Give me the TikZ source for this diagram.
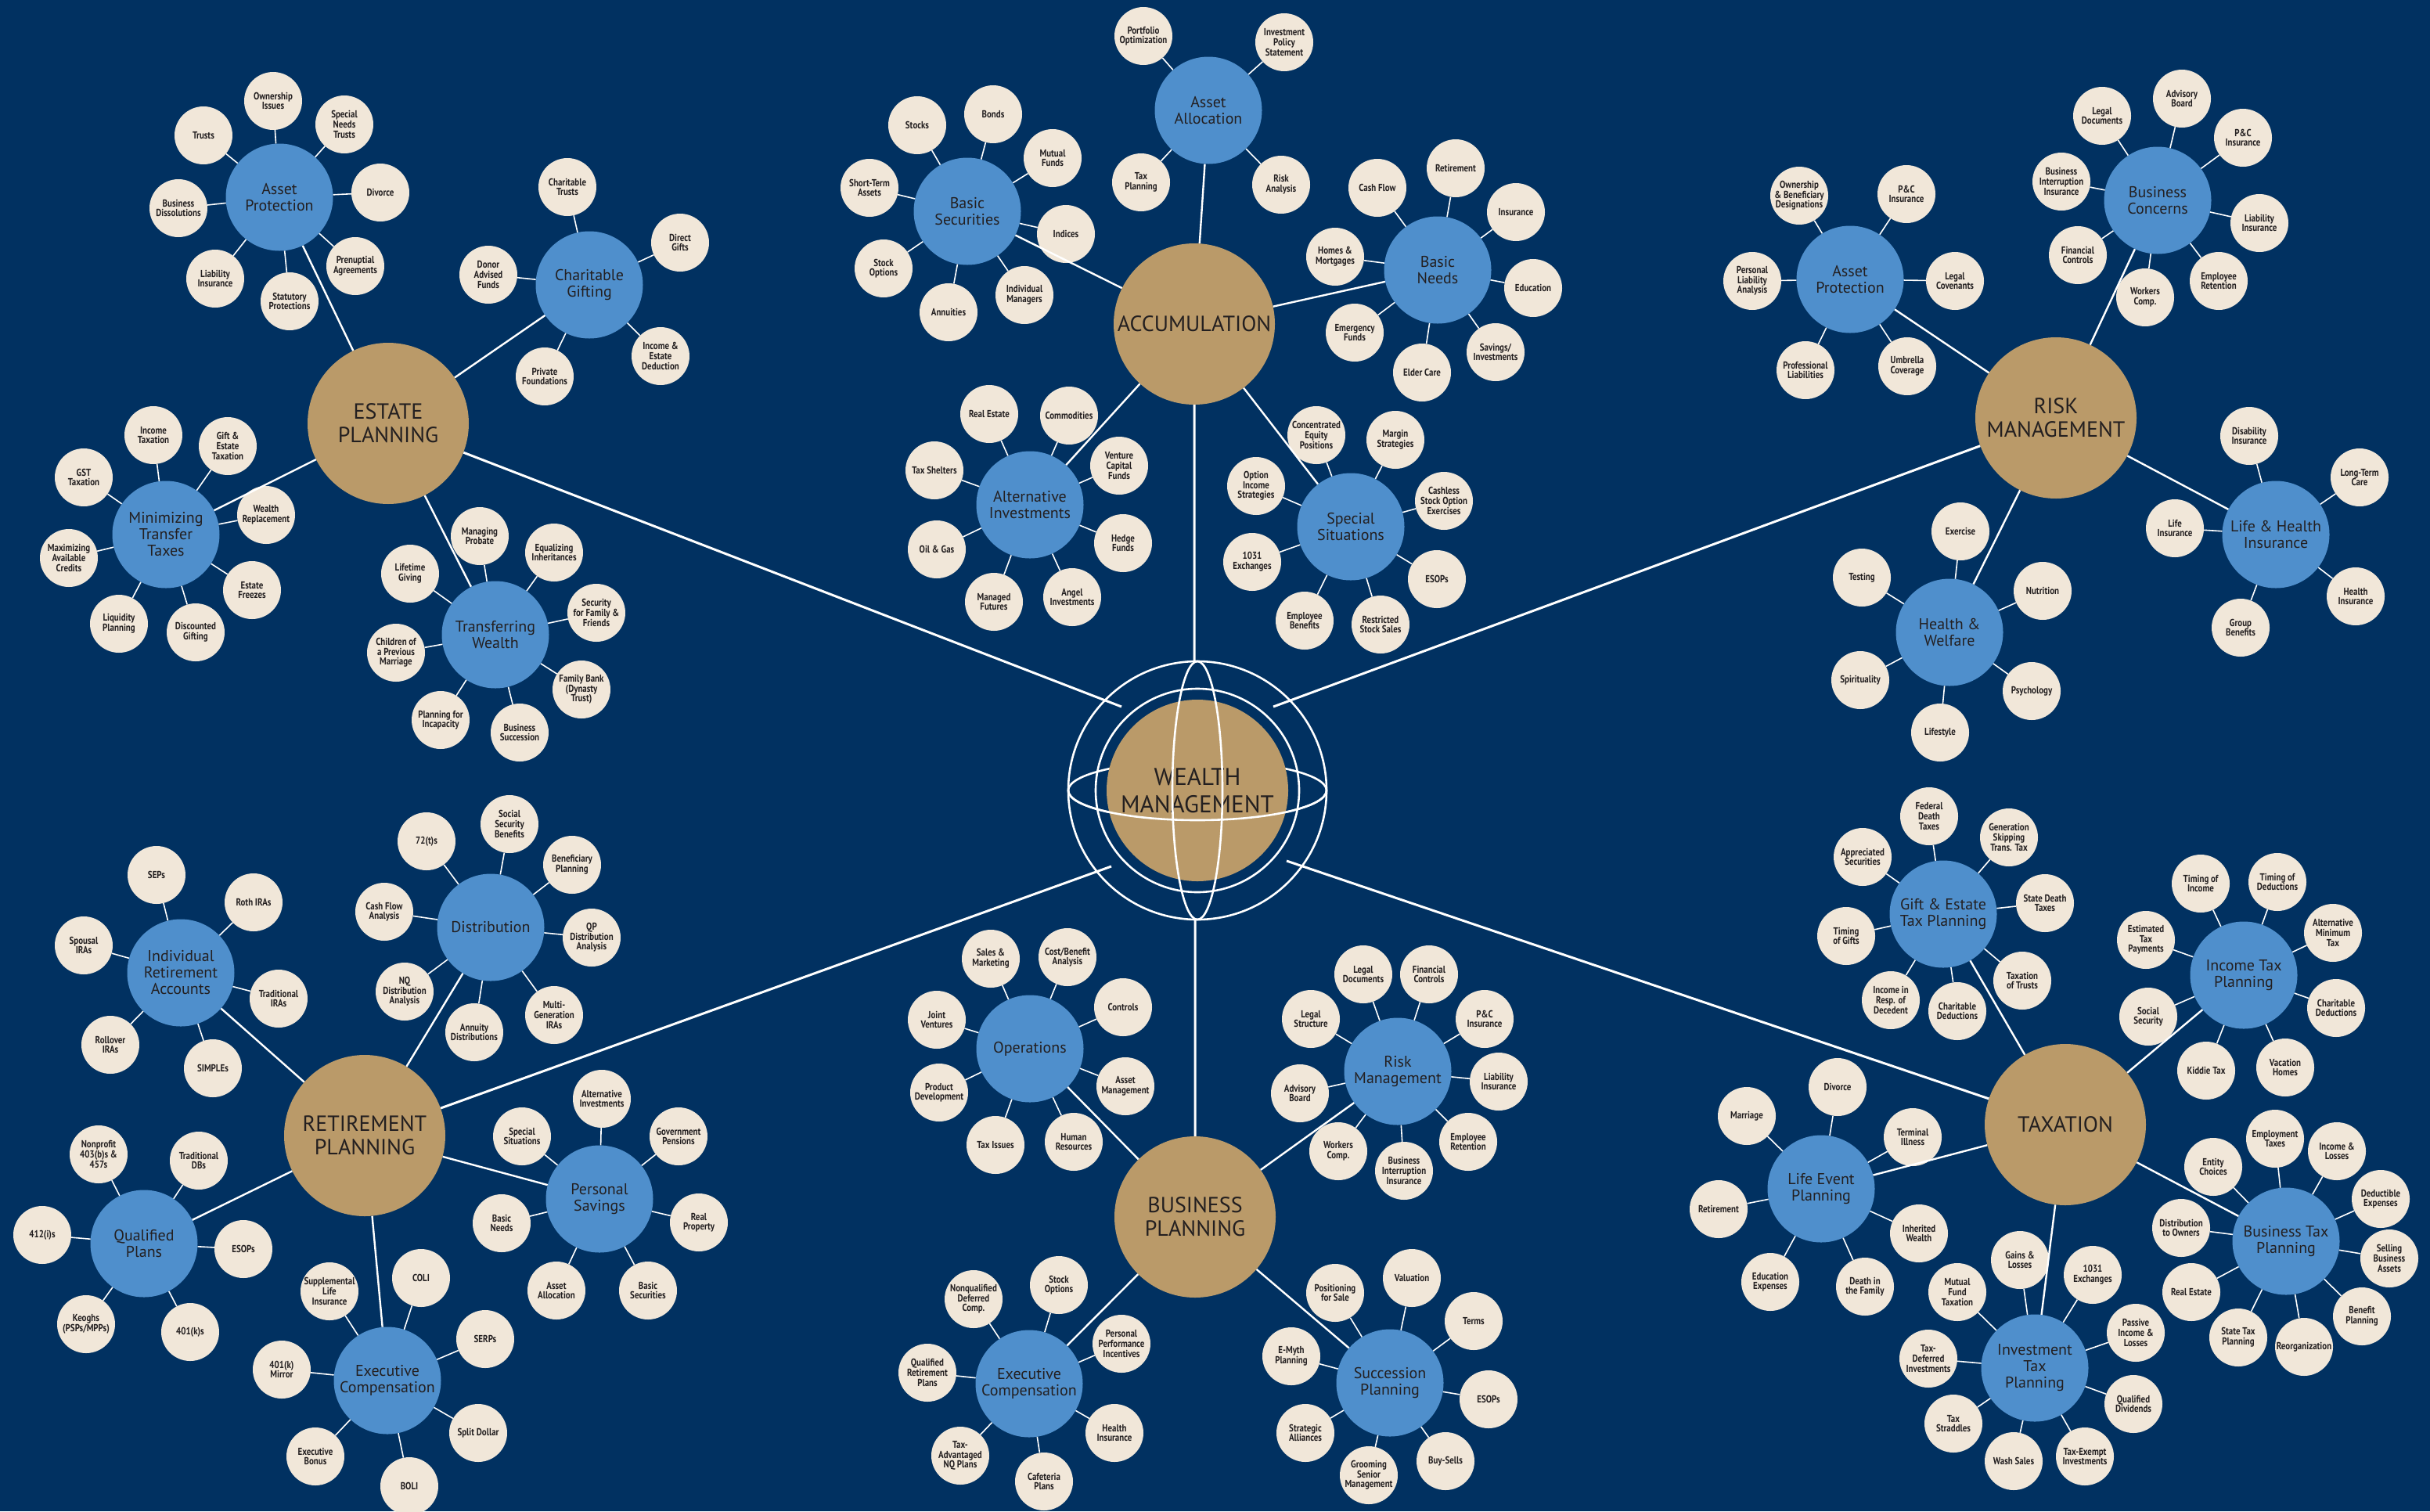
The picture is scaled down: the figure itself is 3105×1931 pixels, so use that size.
\documentclass[tikz,border=0pt]{standalone}
\usepackage{fontspec}
\setmainfont{PT Sans}
\newfontfamily\leaffont{PT Sans}[FakeStretch=0.84]

\definecolor{wmNavy}{HTML}{013161}
\definecolor{wmGold}{HTML}{BA9A69}
\definecolor{wmBlue}{HTML}{4F8FCC}
\definecolor{wmCream}{HTML}{F1E7D9}
\definecolor{wmInk}{HTML}{231F20}

\begin{document}
\begin{tikzpicture}[
		x=1pt, y=-1pt,
		hub/.style={circle, fill=wmGold, text=wmInk, align=center, inner sep=0pt, minimum size=206pt, font=\fontsize{28}{30}\selectfont},
		topic/.style={circle, fill=wmBlue, text=wmInk, align=center, inner sep=0pt, minimum size=137pt, font=\fontsize{20}{21}\selectfont},
		leaf/.style={circle, fill=wmCream, text=wmInk, align=center, inner sep=0pt, minimum size=74pt, font=\leaffont\bfseries\fontsize{13}{12.6}\selectfont},
		spoke/.style={draw=white, line width=3pt},
		branch/.style={draw=white, line width=2.4pt},
		twig/.style={draw=white, line width=1.6pt},
		globe/.style={draw=white, line width=2.6pt}
		]
		\useasboundingbox (0,0) rectangle (3105,1931);
		\fill[wmNavy] (0,0) rectangle (3105,1931);
		
		% globe in the middle
		\coordinate (gc) at (1530,1010);
		\draw[globe] (gc) circle[radius=165pt];
		\draw[globe] (gc) circle[radius=130pt];
		\draw[globe] (gc) ellipse[x radius=165pt, y radius=38pt];
		\node[hub, minimum size=232pt, font=\fontsize{31}{35}\selectfont] (wealth) at (gc) {WEALTH\\MANAGEMENT};
		\draw[globe] (gc) ++(-165pt,0) arc[start angle=180, end angle=360, x radius=165pt, y radius=38pt];
		\draw[globe] (gc) ellipse[x radius=32pt, y radius=165pt];
		\coordinate (gE) at (1433,903);
		\coordinate (gA) at (1526,845);
		\coordinate (gR) at (1627,903);
		\coordinate (gRet) at (1420,1107);
		\coordinate (gB) at (1527,1175);
		\coordinate (gT) at (1644,1100);
		
		\node[hub] (estate) at (496,541) {ESTATE\\PLANNING};
		\node[hub] (accum) at (1526,414) {ACCUMULATION};
		\node[hub] (riskm) at (2627,534) {RISK\\MANAGEMENT};
		\node[hub] (retire) at (466,1451) {RETIREMENT\\PLANNING};
		\node[hub] (business) at (1527,1555) {BUSINESS\\PLANNING};
		\node[hub] (taxation) at (2639,1437) {TAXATION};
		
		\draw[spoke] (gE) -- (estate) (gA) -- (accum) (gR) -- (riskm) (gRet) -- (retire) (gB) -- (business) (gT) -- (taxation);
		
		% estate planning
		\node[topic] (assetprot) at (357,252) {Asset\\Protection};
		\node[leaf] (ap1) at (349,129) {Ownership\\Issues};
		\node[leaf] (ap2) at (260,173) {Trusts};
		\node[leaf] (ap3) at (440,159) {Special\\Needs\\Trusts};
		\node[leaf] (ap4) at (228,266) {Business\\Dissolutions};
		\node[leaf] (ap5) at (486,246) {Divorce};
		\node[leaf] (ap6) at (275,356) {Liability\\Insurance};
		\node[leaf] (ap7) at (370,385) {Statutory\\Protections};
		\node[leaf] (ap8) at (454,340) {Prenuptial\\Agreements};
		\draw[twig] (assetprot) -- (ap1) (assetprot) -- (ap2) (assetprot) -- (ap3) (assetprot) -- (ap4) (assetprot) -- (ap5) (assetprot) -- (ap6) (assetprot) -- (ap7) (assetprot) -- (ap8);
		
		\node[topic] (chargift) at (753,364) {Charitable\\Gifting};
		\node[leaf] (cg1) at (725,239) {Charitable\\Trusts};
		\node[leaf] (cg2) at (624,351) {Donor\\Advised\\Funds};
		\node[leaf] (cg3) at (869,310) {Direct\\Gifts};
		\node[leaf] (cg4) at (696,481) {Private\\Foundations};
		\node[leaf] (cg5) at (844,455) {Income \&\\Estate\\Deduction};
		\draw[twig] (chargift) -- (cg1) (chargift) -- (cg2) (chargift) -- (cg3) (chargift) -- (cg4) (chargift) -- (cg5);
		
		\node[topic] (mintax) at (212,683) {Minimizing\\Transfer\\Taxes};
		\node[leaf] (mt1) at (196,556) {Income\\Taxation};
		\node[leaf] (mt2) at (291,570) {Gift \&\\Estate\\Taxation};
		\node[leaf] (mt3) at (107,610) {GST\\Taxation};
		\node[leaf] (mt4) at (340,658) {Wealth\\Replacement};
		\node[leaf] (mt5) at (88,713) {Maximizing\\Available\\Credits};
		\node[leaf] (mt6) at (322,754) {Estate\\Freezes};
		\node[leaf] (mt7) at (152,797) {Liquidity\\Planning};
		\node[leaf] (mt8) at (250,808) {Discounted\\Gifting};
		\draw[twig] (mintax) -- (mt1) (mintax) -- (mt2) (mintax) -- (mt3) (mintax) -- (mt4) (mintax) -- (mt5) (mintax) -- (mt6) (mintax) -- (mt7) (mintax) -- (mt8);
		
		\node[topic] (transfer) at (633,811) {Transferring\\Wealth};
		\node[leaf] (tw1) at (613,685) {Managing\\Probate};
		\node[leaf] (tw2) at (524,733) {Lifetime\\Giving};
		\node[leaf] (tw3) at (708,706) {Equalizing\\Inheritances};
		\node[leaf] (tw4) at (762,783) {Security\\for Family \&\\Friends};
		\node[leaf] (tw5) at (506,834) {Children of\\a Previous\\Marriage};
		\node[leaf] (tw6) at (743,881) {Family Bank\\(Dynasty\\Trust)};
		\node[leaf] (tw7) at (563,920) {Planning for\\Incapacity};
		\node[leaf] (tw8) at (664,936) {Business\\Succession};
		\draw[twig] (transfer) -- (tw1) (transfer) -- (tw2) (transfer) -- (tw3) (transfer) -- (tw4) (transfer) -- (tw5) (transfer) -- (tw6) (transfer) -- (tw7) (transfer) -- (tw8);
		
		\draw[branch] (estate) -- (assetprot) (estate) -- (chargift) (estate) -- (mintax) (estate) -- (transfer);
		
		% accumulation
		\node[topic] (assetalloc) at (1544,141) {Asset\\Allocation};
		\node[leaf] (aa1) at (1461,46) {Portfolio\\Optimization};
		\node[leaf] (aa2) at (1641,54) {Investment\\Policy\\Statement};
		\node[leaf] (aa3) at (1458,233) {Tax\\Planning};
		\node[leaf] (aa4) at (1637,236) {Risk\\Analysis};
		\draw[twig] (assetalloc) -- (aa1) (assetalloc) -- (aa2) (assetalloc) -- (aa3) (assetalloc) -- (aa4);
		
		\node[topic] (basicsec) at (1236,270) {Basic\\Securities};
		\node[leaf] (bs1) at (1172,160) {Stocks};
		\node[leaf] (bs2) at (1269,146) {Bonds};
		\node[leaf] (bs3) at (1345,202) {Mutual\\Funds};
		\node[leaf] (bs4) at (1111,240) {Short-Term\\Assets};
		\node[leaf] (bs5) at (1362,299) {Indices};
		\node[leaf] (bs6) at (1129,343) {Stock\\Options};
		\node[leaf] (bs7) at (1212,399) {Annuities};
		\node[leaf] (bs8) at (1309,377) {Individual\\Managers};
		\draw[twig] (basicsec) -- (bs1) (basicsec) -- (bs2) (basicsec) -- (bs3) (basicsec) -- (bs4) (basicsec) -- (bs5) (basicsec) -- (bs6) (basicsec) -- (bs7) (basicsec) -- (bs8);
		
		\node[topic] (basicneeds) at (1837,345) {Basic\\Needs};
		\node[leaf] (bn1) at (1760,240) {Cash Flow};
		\node[leaf] (bn2) at (1860,215) {Retirement};
		\node[leaf] (bn3) at (1937,271) {Insurance};
		\node[leaf] (bn4) at (1706,328) {Homes \&\\Mortgages};
		\node[leaf] (bn5) at (1959,368) {Education};
		\node[leaf] (bn6) at (1731,425) {Emergency\\Funds};
		\node[leaf] (bn7) at (1817,476) {Elder Care};
		\node[leaf] (bn8) at (1911,450) {Savings/\\Investments};
		\draw[twig] (basicneeds) -- (bn1) (basicneeds) -- (bn2) (basicneeds) -- (bn3) (basicneeds) -- (bn4) (basicneeds) -- (bn5) (basicneeds) -- (bn6) (basicneeds) -- (bn7) (basicneeds) -- (bn8);
		
		\node[topic] (altinv) at (1316,645) {Alternative\\Investments};
		\node[leaf] (ai1) at (1264,529) {Real Estate};
		\node[leaf] (ai2) at (1366,531) {Commodities};
		\node[leaf] (ai3) at (1194,601) {Tax Shelters};
		\node[leaf] (ai4) at (1430,595) {Venture\\Capital\\Funds};
		\node[leaf] (ai5) at (1197,702) {Oil \& Gas};
		\node[leaf] (ai6) at (1435,694) {Hedge\\Funds};
		\node[leaf] (ai7) at (1270,769) {Managed\\Futures};
		\node[leaf] (ai8) at (1370,763) {Angel\\Investments};
		\draw[twig] (altinv) -- (ai1) (altinv) -- (ai2) (altinv) -- (ai3) (altinv) -- (ai4) (altinv) -- (ai5) (altinv) -- (ai6) (altinv) -- (ai7) (altinv) -- (ai8);
		
		\node[topic] (specsit) at (1726,673) {Special\\Situations};
		\node[leaf] (ss1) at (1682,556) {Concentrated\\Equity\\Positions};
		\node[leaf] (ss2) at (1783,562) {Margin\\Strategies};
		\node[leaf] (ss3) at (1605,621) {Option\\Income\\Strategies};
		\node[leaf] (ss4) at (1845,640) {Cashless\\Stock Option\\Exercises};
		\node[leaf] (ss5) at (1600,718) {1031\\Exchanges};
		\node[leaf] (ss6) at (1836,740) {ESOPs};
		\node[leaf] (ss7) at (1667,793) {Employee\\Benefits};
		\node[leaf] (ss8) at (1764,798) {Restricted\\Stock Sales};
		\draw[twig] (specsit) -- (ss1) (specsit) -- (ss2) (specsit) -- (ss3) (specsit) -- (ss4) (specsit) -- (ss5) (specsit) -- (ss6) (specsit) -- (ss7) (specsit) -- (ss8);
		
		\draw[branch] (accum) -- (assetalloc) (accum) -- (basicsec) (accum) -- (basicneeds) (accum) -- (altinv) (accum) -- (specsit);
		
		% risk management
		\node[topic] (riskprot) at (2364,357) {Asset\\Protection};
		\node[leaf] (rp1) at (2299,250) {Ownership\\\& Beneficiary\\Designations};
		\node[leaf] (rp2) at (2436,248) {P\&C\\Insurance};
		\node[leaf] (rp3) at (2239,359) {Personal\\Liability\\Analysis};
		\node[leaf] (rp4) at (2498,359) {Legal\\Covenants};
		\node[leaf] (rp5) at (2307,473) {Professional\\Liabilities};
		\node[leaf] (rp6) at (2437,468) {Umbrella\\Coverage};
		\draw[twig] (riskprot) -- (rp1) (riskprot) -- (rp2) (riskprot) -- (rp3) (riskprot) -- (rp4) (riskprot) -- (rp5) (riskprot) -- (rp6);
		
		\node[topic] (busconc) at (2757,256) {Business\\Concerns};
		\node[leaf] (bc1) at (2686,148) {Legal\\Documents};
		\node[leaf] (bc2) at (2788,126) {Advisory\\Board};
		\node[leaf] (bc3) at (2866,176) {P\&C\\Insurance};
		\node[leaf] (bc4) at (2634,232) {Business\\Interruption\\Insurance};
		\node[leaf] (bc5) at (2887,285) {Liability\\Insurance};
		\node[leaf] (bc6) at (2655,326) {Financial\\Controls};
		\node[leaf] (bc7) at (2741,380) {Workers\\Comp.};
		\node[leaf] (bc8) at (2835,359) {Employee\\Retention};
		\draw[twig] (busconc) -- (bc1) (busconc) -- (bc2) (busconc) -- (bc3) (busconc) -- (bc4) (busconc) -- (bc5) (busconc) -- (bc6) (busconc) -- (bc7) (busconc) -- (bc8);
		
		\node[topic] (lifehealth) at (2908,683) {Life \& Health\\Insurance};
		\node[leaf] (lh1) at (2874,557) {Disability\\Insurance};
		\node[leaf] (lh2) at (3015,610) {Long-Term\\Care};
		\node[leaf] (lh3) at (2779,675) {Life\\Insurance};
		\node[leaf] (lh4) at (3010,762) {Health\\Insurance};
		\node[leaf] (lh5) at (2863,802) {Group\\Benefits};
		\draw[twig] (lifehealth) -- (lh1) (lifehealth) -- (lh2) (lifehealth) -- (lh3) (lifehealth) -- (lh4) (lifehealth) -- (lh5);
		
		\node[topic] (healthwelf) at (2491,808) {Health \&\\Welfare};
		\node[leaf] (hw1) at (2505,679) {Exercise};
		\node[leaf] (hw2) at (2379,738) {Testing};
		\node[leaf] (hw3) at (2610,755) {Nutrition};
		\node[leaf] (hw4) at (2377,869) {Spirituality};
		\node[leaf] (hw5) at (2596,883) {Psychology};
		\node[leaf] (hw6) at (2479,936) {Lifestyle};
		\draw[twig] (healthwelf) -- (hw1) (healthwelf) -- (hw2) (healthwelf) -- (hw3) (healthwelf) -- (hw4) (healthwelf) -- (hw5) (healthwelf) -- (hw6);
		
		\draw[branch] (riskm) -- (riskprot) (riskm) -- (busconc) (riskm) -- (lifehealth) (riskm) -- (healthwelf);
		
		% retirement planning
		\node[topic] (ira) at (231,1243) {Individual\\Retirement\\Accounts};
		\node[leaf] (ir1) at (200,1118) {SEPs};
		\node[leaf] (ir2) at (324,1153) {Roth IRAs};
		\node[leaf] (ir3) at (107,1208) {Spousal\\IRAs};
		\node[leaf] (ir4) at (356,1276) {Traditional\\IRAs};
		\node[leaf] (ir5) at (141,1335) {Rollover\\IRAs};
		\node[leaf] (ir6) at (272,1365) {SIMPLEs};
		\draw[twig] (ira) -- (ir1) (ira) -- (ir2) (ira) -- (ir3) (ira) -- (ir4) (ira) -- (ir5) (ira) -- (ir6);
		
		\node[topic] (distrib) at (627,1185) {Distribution};
		\node[leaf] (di1) at (545,1075) {72(t)s};
		\node[leaf] (di2) at (651,1053) {Social\\Security\\Benefits};
		\node[leaf] (di3) at (731,1105) {Beneficiary\\Planning};
		\node[leaf] (di4) at (491,1165) {Cash Flow\\Analysis};
		\node[leaf] (di5) at (756,1198) {QP\\Distribution\\Analysis};
		\node[leaf] (di6) at (517,1267) {NQ\\Distribution\\Analysis};
		\node[leaf] (di7) at (606,1319) {Annuity\\Distributions};
		\node[leaf] (di8) at (708,1297) {Multi-\\Generation\\IRAs};
		\draw[twig] (distrib) -- (di1) (distrib) -- (di2) (distrib) -- (di3) (distrib) -- (di4) (distrib) -- (di5) (distrib) -- (di6) (distrib) -- (di7) (distrib) -- (di8);
		
		\node[topic] (qualplans) at (184,1589) {Qualified\\Plans};
		\node[leaf] (qp1) at (126,1475) {Nonprofit\\403(b)s \&\\457s};
		\node[leaf] (qp2) at (254,1483) {Traditional\\DBs};
		\node[leaf] (qp3) at (54,1578) {412(i)s};
		\node[leaf] (qp4) at (311,1596) {ESOPs};
		\node[leaf] (qp5) at (110,1692) {Keoghs\\(PSPs/MPPs)};
		\node[leaf] (qp6) at (243,1702) {401(k)s};
		\draw[twig] (qualplans) -- (qp1) (qualplans) -- (qp2) (qualplans) -- (qp3) (qualplans) -- (qp4) (qualplans) -- (qp5) (qualplans) -- (qp6);
		
		\node[topic] (execret) at (495,1764) {Executive\\Compensation};
		\node[leaf] (er1) at (421,1650) {Supplemental\\Life\\Insurance};
		\node[leaf] (er2) at (538,1633) {COLI};
		\node[leaf] (er3) at (620,1711) {SERPs};
		\node[leaf] (er4) at (360,1750) {401(k)\\Mirror};
		\node[leaf] (er5) at (611,1831) {Split Dollar};
		\node[leaf] (er6) at (403,1861) {Executive\\Bonus};
		\node[leaf] (er7) at (523,1899) {BOLI};
		\draw[twig] (execret) -- (er1) (execret) -- (er2) (execret) -- (er3) (execret) -- (er4) (execret) -- (er5) (execret) -- (er6) (execret) -- (er7);
		
		\node[topic] (persav) at (766,1532) {Personal\\Savings};
		\node[leaf] (ps1) at (769,1404) {Alternative\\Investments};
		\node[leaf] (ps2) at (867,1452) {Government\\Pensions};
		\node[leaf] (ps3) at (667,1452) {Special\\Situations};
		\node[leaf] (ps4) at (641,1563) {Basic\\Needs};
		\node[leaf] (ps5) at (893,1562) {Real\\Property};
		\node[leaf] (ps6) at (711,1649) {Asset\\Allocation};
		\node[leaf] (ps7) at (828,1649) {Basic\\Securities};
		\draw[twig] (persav) -- (ps1) (persav) -- (ps2) (persav) -- (ps3) (persav) -- (ps4) (persav) -- (ps5) (persav) -- (ps6) (persav) -- (ps7);
		
		\draw[branch] (retire) -- (ira) (retire) -- (distrib) (retire) -- (qualplans) (retire) -- (execret) (retire) -- (persav);
		
		% business planning
		\node[topic] (operations) at (1316,1340) {Operations};
		\node[leaf] (op1) at (1266,1225) {Sales \&\\Marketing};
		\node[leaf] (op2) at (1364,1223) {Cost/Benefit\\Analysis};
		\node[leaf] (op3) at (1197,1303) {Joint\\Ventures};
		\node[leaf] (op4) at (1435,1287) {Controls};
		\node[leaf] (op5) at (1200,1396) {Product\\Development};
		\node[leaf] (op6) at (1438,1388) {Asset\\Management};
		\node[leaf] (op7) at (1272,1463) {Tax Issues};
		\node[leaf] (op8) at (1372,1459) {Human\\Resources};
		\draw[twig] (operations) -- (op1) (operations) -- (op2) (operations) -- (op3) (operations) -- (op4) (operations) -- (op5) (operations) -- (op6) (operations) -- (op7) (operations) -- (op8);
		
		\node[topic] (busrisk) at (1786,1369) {Risk\\Management};
		\node[leaf] (br1) at (1742,1245) {Legal\\Documents};
		\node[leaf] (br2) at (1826,1245) {Financial\\Controls};
		\node[leaf] (br3) at (1675,1302) {Legal\\Structure};
		\node[leaf] (br4) at (1897,1302) {P\&C\\Insurance};
		\node[leaf] (br5) at (1661,1397) {Advisory\\Board};
		\node[leaf] (br6) at (1915,1382) {Liability\\Insurance};
		\node[leaf] (br7) at (1710,1471) {Workers\\Comp.};
		\node[leaf] (br8) at (1794,1496) {Business\\Interruption\\Insurance};
		\node[leaf] (br9) at (1876,1459) {Employee\\Retention};
		\draw[twig] (busrisk) -- (br1) (busrisk) -- (br2) (busrisk) -- (br3) (busrisk) -- (br4) (busrisk) -- (br5) (busrisk) -- (br6) (busrisk) -- (br7) (busrisk) -- (br8) (busrisk) -- (br9);
		
		\node[topic] (execbus) at (1315,1768) {Executive\\Compensation};
		\node[leaf] (eb1) at (1244,1660) {Nonqualified\\Deferred\\Comp.};
		\node[leaf] (eb2) at (1353,1642) {Stock\\Options};
		\node[leaf] (eb3) at (1433,1717) {Personal\\Performance\\Incentives};
		\node[leaf] (eb4) at (1185,1754) {Qualified\\Retirement\\Plans};
		\node[leaf] (eb5) at (1424,1831) {Health\\Insurance};
		\node[leaf] (eb6) at (1227,1860) {Tax-\\Advantaged\\NQ Plans};
		\node[leaf] (eb7) at (1334,1893) {Cafeteria\\Plans};
		\draw[twig] (execbus) -- (eb1) (execbus) -- (eb2) (execbus) -- (eb3) (execbus) -- (eb4) (execbus) -- (eb5) (execbus) -- (eb6) (execbus) -- (eb7);
		
		\node[topic] (succession) at (1776,1767) {Succession\\Planning};
		\node[leaf] (sp1) at (1706,1652) {Positioning\\for Sale};
		\node[leaf] (sp2) at (1804,1633) {Valuation};
		\node[leaf] (sp3) at (1883,1688) {Terms};
		\node[leaf] (sp4) at (1650,1733) {E-Myth\\Planning};
		\node[leaf] (sp5) at (1902,1788) {ESOPs};
		\node[leaf] (sp6) at (1668,1831) {Strategic\\Alliances};
		\node[leaf] (sp7) at (1749,1885) {Grooming\\Senior\\Management};
		\node[leaf] (sp8) at (1847,1867) {Buy-Sells};
		\draw[twig] (succession) -- (sp1) (succession) -- (sp2) (succession) -- (sp3) (succession) -- (sp4) (succession) -- (sp5) (succession) -- (sp6) (succession) -- (sp7) (succession) -- (sp8);
		
		\draw[branch] (business) -- (operations) (business) -- (busrisk) (business) -- (execbus) (business) -- (succession);
		
		% taxation
		\node[topic] (lifeevent) at (2327,1519) {Life Event\\Planning};
		\node[leaf] (le1) at (2348,1389) {Divorce};
		\node[leaf] (le2) at (2232,1426) {Marriage};
		\node[leaf] (le3) at (2444,1453) {Terminal\\Illness};
		\node[leaf] (le4) at (2196,1545) {Retirement};
		\node[leaf] (le5) at (2452,1576) {Inherited\\Wealth};
		\node[leaf] (le6) at (2262,1638) {Education\\Expenses};
		\node[leaf] (le7) at (2383,1644) {Death in\\the Family};
		\draw[twig] (lifeevent) -- (le1) (lifeevent) -- (le2) (lifeevent) -- (le3) (lifeevent) -- (le4) (lifeevent) -- (le5) (lifeevent) -- (le6) (lifeevent) -- (le7);
		
		\node[topic] (giftest) at (2483,1168) {Gift \& Estate\\Tax Planning};
		\node[leaf] (ge1) at (2465,1043) {Federal\\Death\\Taxes};
		\node[leaf] (ge2) at (2380,1095) {Appreciated\\Securities};
		\node[leaf] (ge3) at (2567,1070) {Generation\\Skipping\\Trans. Tax};
		\node[leaf] (ge4) at (2613,1154) {State Death\\Taxes};
		\node[leaf] (ge5) at (2359,1196) {Timing\\of Gifts};
		\node[leaf] (ge6) at (2584,1253) {Taxation\\of Trusts};
		\node[leaf] (ge7) at (2416,1278) {Income in\\Resp. of\\Decedent};
		\node[leaf] (ge8) at (2501,1292) {Charitable\\Deductions};
		\draw[twig] (giftest) -- (ge1) (giftest) -- (ge2) (giftest) -- (ge3) (giftest) -- (ge4) (giftest) -- (ge5) (giftest) -- (ge6) (giftest) -- (ge7) (giftest) -- (ge8);
		
		\node[topic] (inctax) at (2867,1246) {Income Tax\\Planning};
		\node[leaf] (it1) at (2812,1129) {Timing of\\Income};
		\node[leaf] (it2) at (2910,1127) {Timing of\\Deductions};
		\node[leaf] (it3) at (2981,1192) {Alternative\\Minimum\\Tax};
		\node[leaf] (it4) at (2742,1201) {Estimated\\Tax\\Payments};
		\node[leaf] (it5) at (2985,1288) {Charitable\\Deductions};
		\node[leaf] (it6) at (2745,1299) {Social\\Security};
		\node[leaf] (it7) at (2819,1368) {Kiddie Tax};
		\node[leaf] (it8) at (2920,1364) {Vacation\\Homes};
		\draw[twig] (inctax) -- (it1) (inctax) -- (it2) (inctax) -- (it3) (inctax) -- (it4) (inctax) -- (it5) (inctax) -- (it6) (inctax) -- (it7) (inctax) -- (it8);
		
		\node[topic] (bustax) at (2921,1586) {Business Tax\\Planning};
		\node[leaf] (bt1) at (2828,1491) {Entity\\Choices};
		\node[leaf] (bt2) at (2907,1455) {Employment\\Taxes};
		\node[leaf] (bt3) at (2986,1471) {Income \&\\Losses};
		\node[leaf] (bt4) at (3042,1532) {Deductible\\Expenses};
		\node[leaf] (bt5) at (2787,1569) {Distribution\\to Owners};
		\node[leaf] (bt6) at (3053,1608) {Selling\\Business\\Assets};
		\node[leaf] (bt7) at (2800,1651) {Real Estate};
		\node[leaf] (bt8) at (3018,1682) {Benefit\\Planning};
		\node[leaf] (bt9) at (2860,1709) {State Tax\\Planning};
		\node[leaf] (bt10) at (2944,1721) {Reorganization};
		\draw[twig] (bustax) -- (bt1) (bustax) -- (bt2) (bustax) -- (bt3) (bustax) -- (bt4) (bustax) -- (bt5) (bustax) -- (bt6) (bustax) -- (bt7) (bustax) -- (bt8) (bustax) -- (bt9) (bustax) -- (bt10);
		
		\node[topic] (invtax) at (2600,1748) {Investment\\Tax\\Planning};
		\node[leaf] (iv1) at (2581,1610) {Gains \&\\Losses};
		\node[leaf] (iv2) at (2674,1629) {1031\\Exchanges};
		\node[leaf] (iv3) at (2501,1651) {Mutual\\Fund\\Taxation};
		\node[leaf] (iv4) at (2729,1703) {Passive\\Income \&\\Losses};
		\node[leaf] (iv5) at (2464,1736) {Tax-\\Deferred\\Investments};
		\node[leaf] (iv6) at (2726,1794) {Qualified\\Dividends};
		\node[leaf] (iv7) at (2496,1819) {Tax\\Straddles};
		\node[leaf] (iv8) at (2573,1867) {Wash Sales};
		\node[leaf] (iv9) at (2664,1861) {Tax-Exempt\\Investments};
		\draw[twig] (invtax) -- (iv1) (invtax) -- (iv2) (invtax) -- (iv3) (invtax) -- (iv4) (invtax) -- (iv5) (invtax) -- (iv6) (invtax) -- (iv7) (invtax) -- (iv8) (invtax) -- (iv9);
		
		\draw[branch] (taxation) -- (lifeevent) (taxation) -- (giftest) (taxation) -- (inctax) (taxation) -- (bustax) (taxation) -- (invtax);
	\end{tikzpicture}
\end{document}
